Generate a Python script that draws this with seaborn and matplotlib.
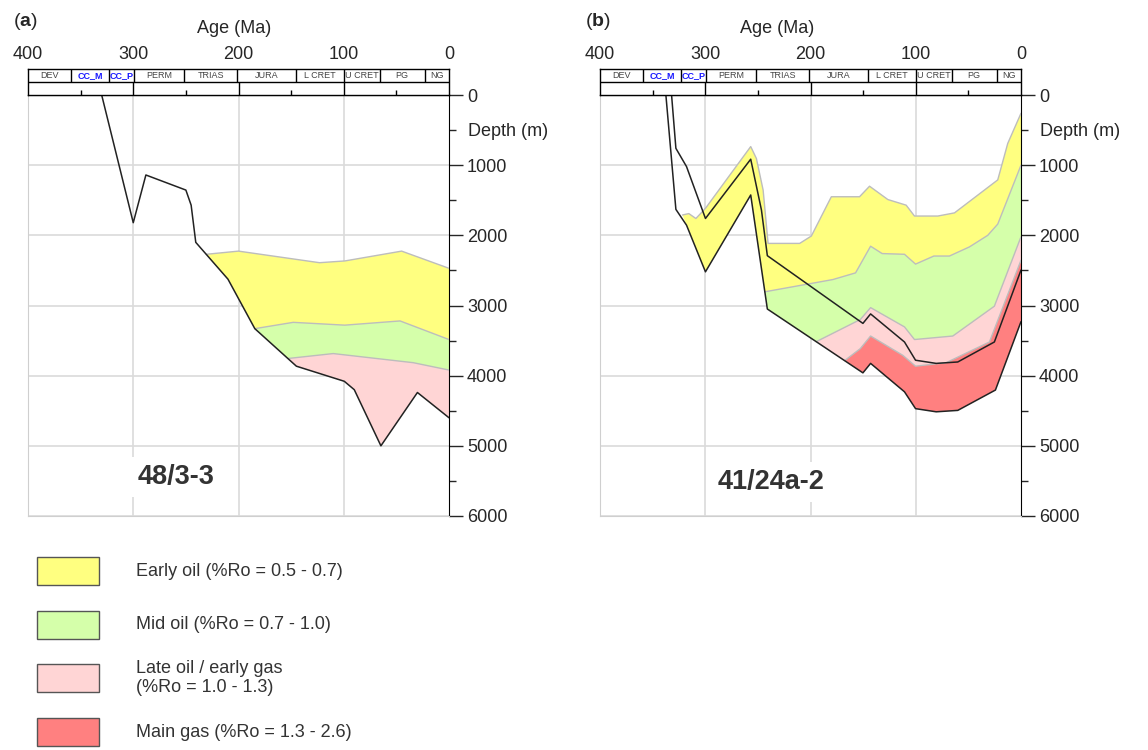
import numpy as np
import matplotlib
matplotlib.use("Agg")
import matplotlib.pyplot as plt
from matplotlib.patches import Rectangle
import seaborn as sns

sns.set_style("white")
plt.rcParams['font.family'] = ['Liberation Sans', 'DejaVu Sans']
plt.rcParams['mathtext.fontset'] = 'custom'
plt.rcParams['mathtext.rm'] = 'Liberation Sans'
plt.rcParams['mathtext.bf'] = 'Liberation Sans:bold'

# geological time scale (Ma)
period_names = ['DEV', 'CC_M', 'CC_P', 'PERM', 'TRIAS', 'JURA', 'L CRET', 'U CRET', 'PG', 'NG']
period_edges = [400, 359, 323, 299, 252, 201, 145, 100, 66, 23, 0]

# well 48/3-3
a_burial_age = np.array([330, 300, 288, 250, 245, 240.6, 210, 184.5, 145, 99.5, 90, 64.7, 30, 0])
a_burial_depth = np.array([0, 1820, 1140, 1355, 1570, 2100, 2625, 3330, 3865, 4080, 4200, 5000, 4240, 4600])
a_early_age = np.array([230.5, 200, 123, 99, 45, 0])
a_early_depth = np.array([2270, 2225, 2390, 2365, 2225, 2470])
a_mid_age = np.array([184.5, 148, 99, 46.5, 0])
a_mid_depth = np.array([3330, 3240, 3280, 3220, 3485])
a_late_age = np.array([152.8, 110, 34, 0])
a_late_depth = np.array([3755, 3685, 3815, 3920])

# well 41/24a-2
b_outer_age = np.array([337.4, 327.9, 317.8, 299.8, 256.8, 241, 150.2, 142.9, 110.7, 100.2, 80.6, 60.1, 24.3, 0])
b_outer_depth = np.array([0, 1630, 1855, 2520, 1425, 3050, 3960, 3825, 4230, 4470, 4515, 4495, 4205, 3230])
b_inner_age = np.array([332, 327.9, 317.8, 299.8, 256.8, 246.6, 241, 150.2, 142.9, 110.7, 100.2, 80.6, 60.1, 25.3, 0])
b_inner_depth = np.array([0, 760, 1020, 1760, 915, 1640, 2290, 3255, 3120, 3520, 3780, 3825, 3805, 3520, 2495])
b_early_age = np.array([321.6, 315.6, 308.9, 299.8, 256.8, 251.4, 245, 240.3, 210.3, 199.2, 180.2,
                        153.4, 143.9, 126.5, 109.1, 101.2, 79, 63.2, 22.1, 12.6, 0])
b_early_depth = np.array([1710, 1690, 1760, 1615, 735, 905, 1355, 2115, 2115, 2010, 1450,
                          1450, 1300, 1490, 1570, 1725, 1725, 1680, 1210, 690, 260])
b_mid_age = np.array([243.5, 178.7, 157.2, 142.9, 131.9, 110.7, 100.2, 82.8, 68, 49, 31.6, 22.1, 0])
b_mid_depth = np.array([2805, 2630, 2535, 2155, 2260, 2270, 2410, 2295, 2295, 2165, 2000, 1840, 1000])
b_late_age = np.array([194.5, 152.7, 142.9, 110.7, 101.2, 64.8, 25.3, 0])
b_late_depth = np.array([3515, 3200, 3030, 3305, 3485, 3435, 3010, 2020])
b_gas_age = np.array([167.6, 152.7, 142.9, 112.3, 100.2, 71.1, 30, 0])
b_gas_depth = np.array([3786, 3615, 3435, 3710, 3865, 3815, 3520, 2355])

zone_colors = ['#ffff80', '#d5ffaa', '#ffd5d5', '#ff8080']
legend_labels = ['Early oil (%Ro = 0.5 - 0.7)', 'Mid oil (%Ro = 0.7 - 1.0)',
                 'Late oil / early gas\n(%Ro = 1.0 - 1.3)', 'Main gas (%Ro = 1.3 - 2.6)']

fig = plt.figure(figsize=(11.48, 7.5), dpi=100)


def zone(ax, iso_age, iso_depth, base_age, base_depth, color):
    m = base_age < iso_age[0]
    xs = np.concatenate([iso_age, base_age[m][::-1]])
    ys = np.concatenate([iso_depth, base_depth[m][::-1]])
    ax.fill(xs, ys, color=color, lw=0, zorder=2)
    ax.plot(iso_age, iso_depth, color='#bdbdbd', lw=1, zorder=3)


def panel(left, letter, well, well_age, well_depth, age_lab_x):
    ax = fig.add_axes([left, 234 / 750, 421 / 1148, 421 / 750])
    strip = fig.add_axes([left, 655 / 750, 421 / 1148, 26 / 750])
    ax.set_xlim(400, 0)
    ax.set_ylim(6000, 0)
    ax.set_xticks([300, 200, 100])
    ax.tick_params(axis='x', length=0, labelbottom=False)
    ax.set_yticks(range(0, 6001, 1000))
    ax.set_yticks(range(500, 6000, 1000), minor=True)
    ax.yaxis.tick_right()
    ax.tick_params(axis='y', which='major', direction='out', length=10, width=1, labelsize=13, pad=3, right=True)
    ax.tick_params(axis='y', which='minor', direction='out', length=5, width=1, right=True)
    ax.grid(True, color='#dadada', lw=1.2, zorder=0)
    for s in ['left', 'bottom']:
        ax.spines[s].set_color('#cfcfcf')
    ax.spines['right'].set_color('black')
    ax.spines['top'].set_color('black')
    ax.text(1.045, 520, 'Depth (m)', transform=ax.get_yaxis_transform(), fontsize=13, va='center')
    ax.text(well_age, well_depth, well, fontsize=19.5, fontweight='bold', color='#333333', va='center',
            zorder=5, bbox=dict(facecolor='white', edgecolor='none', pad=5))

    # time scale strip
    strip.set_xlim(400, 0)
    strip.set_ylim(0, 2)
    strip.set_yticks([])
    strip.xaxis.tick_top()
    strip.set_xticks([400, 300, 200, 100, 0])
    strip.tick_params(axis='x', length=0, labelsize=13, pad=4)
    for s in strip.spines.values():
        s.set_color('black')
        s.set_linewidth(1)
    strip.axhline(1, color='black', lw=1)
    strip.vlines(period_edges[1:-1], 1, 2, color='black', lw=1)
    strip.vlines([300, 200, 100], 0, 1, color='black', lw=1)
    strip.vlines([350, 250, 150, 50], 0, 0.35, color='black', lw=1)
    for i, name in enumerate(period_names):
        mid = (period_edges[i] + period_edges[i + 1]) / 2
        blue = name.startswith('CC')
        strip.text(mid, 1.5, name, ha='center', va='center', fontsize=6.5,
                   color='#1a1aff' if blue else '#444444', fontweight='bold' if blue else 'normal')
    strip.text(age_lab_x, 2.55, 'Age (Ma)', transform=strip.transAxes, ha='center', va='center', fontsize=13)
    fig.text(left - 15 / 1148, 1 - 21 / 750, r'($\mathbf{' + letter + '}$)', fontsize=14, va='center')
    return ax


ax_a = panel(28 / 1148, 'a', '48/3-3', 295.5, 5440, 0.49)
zone(ax_a, a_early_age, a_early_depth, a_burial_age, a_burial_depth, zone_colors[0])
zone(ax_a, a_mid_age, a_mid_depth, a_burial_age, a_burial_depth, zone_colors[1])
zone(ax_a, a_late_age, a_late_depth, a_burial_age, a_burial_depth, zone_colors[2])
sns.lineplot(x=a_burial_age, y=a_burial_depth, sort=False, estimator=None, color='#222222', lw=1.1, ax=ax_a, zorder=4)

ax_b = panel(600 / 1148, 'b', '41/24a-2', 288.4, 5510, 0.42)
zone(ax_b, b_early_age, b_early_depth, b_outer_age, b_outer_depth, zone_colors[0])
zone(ax_b, b_mid_age, b_mid_depth, b_outer_age, b_outer_depth, zone_colors[1])
zone(ax_b, b_late_age, b_late_depth, b_outer_age, b_outer_depth, zone_colors[2])
zone(ax_b, b_gas_age, b_gas_depth, b_outer_age, b_outer_depth, zone_colors[3])
sns.lineplot(x=b_outer_age, y=b_outer_depth, sort=False, estimator=None, color='#222222', lw=1.1, ax=ax_b, zorder=4)
sns.lineplot(x=b_inner_age, y=b_inner_depth, sort=False, estimator=None, color='#222222', lw=1.1, ax=ax_b, zorder=4)
for ax in (ax_a, ax_b):
    ax.set_xlim(400, 0)
    ax.set_ylim(6000, 0)

# legend
leg = fig.add_axes([0, 0, 0.5, 225 / 750])
leg.set_xlim(0, 574)
leg.set_ylim(750, 525)
leg.axis('off')
for i, (lab, col) in enumerate(zip(legend_labels, zone_colors)):
    top = 557 + i * 53.7
    leg.add_patch(Rectangle((37, top), 62, 28, facecolor=col, edgecolor='#555555', lw=1))
    leg.text(136, top + 14, lab, fontsize=13, va='center', color='#333333', linespacing=1.15)

fig.savefig('out.png', dpi=100)
